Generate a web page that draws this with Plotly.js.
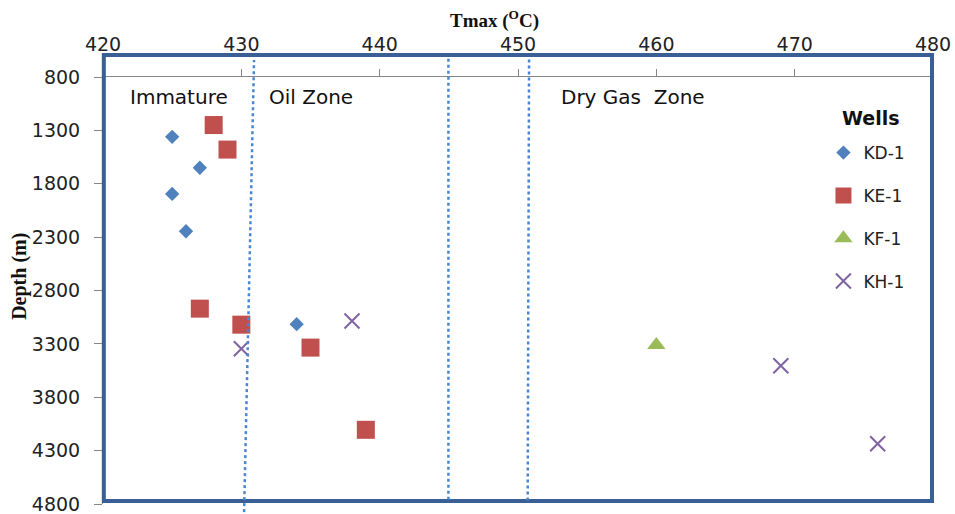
<!DOCTYPE html>
<html>
<head>
<meta charset="utf-8">
<script src="https://cdn.plot.ly/plotly-3.0.1.min.js"></script>
<style>html,body{margin:0;padding:0;background:#fff;}#chart{width:955px;height:514px;}</style>
</head>
<body>
<div id="chart"></div>
<script>
// Data (Tmax in °C, depth in m)
const kd1Tmax = [425, 427, 425, 426, 434];
const kd1Depth = [1360, 1650, 1895, 2245, 3115];
const ke1Tmax = [428, 429, 427, 430, 435, 439];
const ke1Depth = [1250, 1480, 2970, 3120, 3335, 4105];
const kf1Tmax = [460];
const kf1Depth = [3310];
const kh1Tmax = [430, 438, 469, 476];
const kh1Depth = [3345, 3085, 3505, 4235];

const xTicks = [420, 430, 440, 450, 460, 470, 480];
const yTicks = [800, 1300, 1800, 2300, 2800, 3300, 3800, 4300, 4800];

// Zone boundary lines (Tmax at bottom, Tmax at top)
const boundaryBottom = [430.2, 444.97, 450.7];
const boundaryTop = [430.92, 444.97, 450.8];
const zoneLabels = ["Immature", "Oil Zone", "Dry Gas\u00a0 Zone"];
const zoneLabelX = [425.5, 435.05, 458.3];

const sans = "'DejaVu Sans', Verdana, sans-serif";
const serif = "'Liberation Serif', 'Times New Roman', serif";
const tickFont = {family: sans, size: 19, color: "#222"};

const traces = [
  {name: "KD-1", x: kd1Tmax, y: kd1Depth, mode: "markers", type: "scatter", legendgroup: "a",
   marker: {symbol: "diamond", size: 11, color: "#4F81BD"}},
  {name: "KE-1", x: ke1Tmax, y: ke1Depth, mode: "markers", type: "scatter", legendgroup: "b",
   marker: {symbol: "square", size: 18, color: "#C0504D"}},
  {name: "KF-1", x: kf1Tmax, y: kf1Depth, mode: "markers", type: "scatter", legendgroup: "c",
   marker: {symbol: "triangle-up", size: 16, color: "#9BBB59"}},
  {name: "KH-1", x: kh1Tmax, y: kh1Depth, mode: "markers", type: "scatter", legendgroup: "d",
   marker: {symbol: "x-thin", size: 15, color: "#8064A2", line: {color: "#8064A2", width: 2}}}
];

const shapes = [
  {type: "rect", xref: "paper", yref: "paper", x0: 0.001, x1: 0.9988, y0: 0.007, y1: 1.0515,
   line: {color: "#3A5F94", width: 4}, layer: "above"}
];
const lineTops = [1.04, 1.045, 1.045];
const lineBots = [-0.019, 0.01, 0.008];
for (let i = 0; i < boundaryBottom.length; i++) {
  shapes.push({type: "line", xref: "x", yref: "paper", x0: boundaryBottom[i], x1: boundaryTop[i],
    y0: lineBots[i], y1: lineTops[i], line: {color: "#4A86D0", width: 2.5, dash: "dot"}, layer: "above"});
}

const annotations = zoneLabels.map((t, i) => ({
  text: t, x: zoneLabelX[i], y: 990, xref: "x", yref: "y", showarrow: false,
  xanchor: "center", yanchor: "middle", font: {family: sans, size: 20, color: "#111"}
}));
annotations.push({text: "<b>Wells</b>", xref: "paper", yref: "paper", x: 0.925, y: 0.904,
  showarrow: false, xanchor: "center", yanchor: "middle", font: {family: sans, size: 19, color: "#111"}});
annotations.push({text: "<b>Tmax (<sup>O</sup>C)</b>", xref: "paper", yref: "paper", x: 0.472, y: 1.1347,
  showarrow: false, xanchor: "center", yanchor: "middle",
  font: {family: serif, size: 19, color: "#111"}});
annotations.push({text: "<b>Depth (m)</b>", xref: "paper", yref: "paper", x: -0.1, y: 0.532,
  showarrow: false, textangle: -90, xanchor: "center", yanchor: "middle",
  font: {family: serif, size: 20, color: "#111"}});

const layout = {
  width: 955, height: 514,
  margin: {l: 103, r: 22, t: 77, b: 10, pad: 0},
  paper_bgcolor: "#fff", plot_bgcolor: "#fff",
  showlegend: true,
  legend: {
    x: 0.868, y: 0.864, xanchor: "left", yanchor: "top",
    bgcolor: "rgba(0,0,0,0)", traceorder: "grouped", tracegroupgap: 17.7,
    font: {family: sans, size: 17, color: "#222"},
    itemwidth: 30
  },
  xaxis: {
    side: "top", range: [420, 480], tickvals: xTicks, ticktext: xTicks.map(String),
    showgrid: false, zeroline: false, showline: true, linecolor: "#868686", linewidth: 1,
    ticks: "outside", ticklen: 7, tickcolor: "#868686", ticklabelstandoff: 10,
    tickfont: tickFont, ticklabeloverflow: "allow"
  },
  yaxis: {
    range: [4800, 800], tickvals: yTicks, ticktext: yTicks.map(String),
    showgrid: false, zeroline: false, showline: true, linecolor: "#868686", linewidth: 1,
    ticks: "outside", ticklen: 8, tickcolor: "#868686", ticklabelstandoff: 10,
    tickfont: tickFont, ticklabeloverflow: "allow"
  },
  shapes: shapes,
  annotations: annotations
};

Plotly.newPlot("chart", traces, layout, {displayModeBar: false, staticPlot: true});
</script>
</body>
</html>
